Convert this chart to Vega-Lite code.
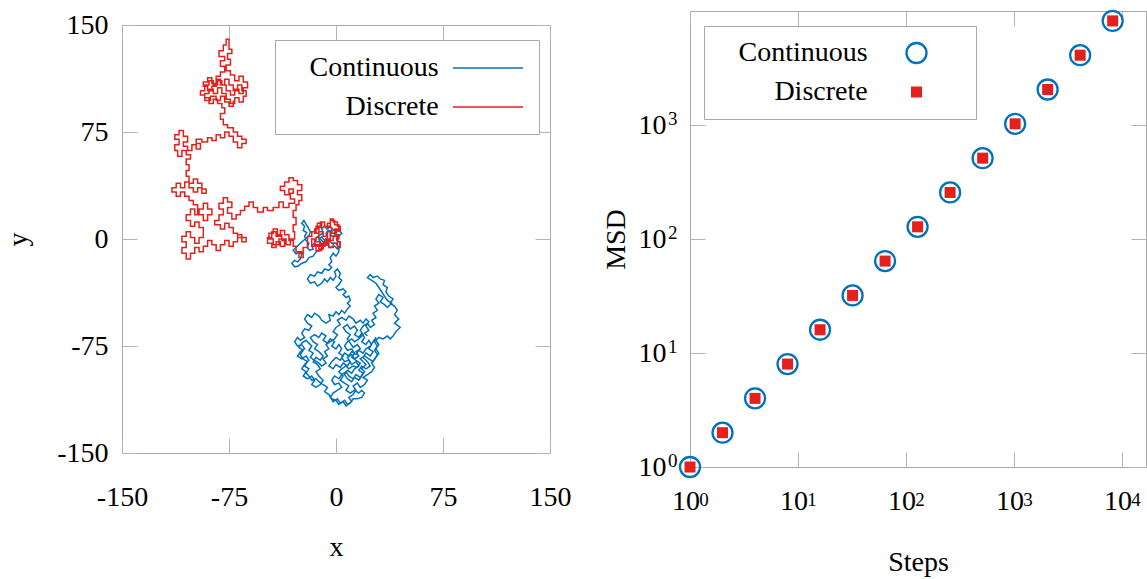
{
  "$schema": "https://vega.github.io/schema/vega-lite/v6.json",
  "background": "white",
  "padding": {"left": 4, "top": 5, "right": 0, "bottom": 0},
  "config": {
    "font": "Liberation Serif",
    "view": {"stroke": "#a9a9a9", "strokeWidth": 1},
    "axis": {
      "domain": false, "grid": false,
      "tickColor": "#b4b4b4", "tickSize": -15, "tickWidth": 1,
      "labelFont": "Liberation Serif", "labelFontSize": 28, "labelColor": "#000000",
      "labelFlush": false, "labelOverlap": false, "labelBound": false,
      "titleFont": "Liberation Serif", "titleFontSize": 28, "titleFontWeight": "normal", "titleColor": "#000000"
    },
    "legend": {
      "labelFont": "Liberation Serif", "labelFontSize": 28, "labelColor": "#000000", "labelLimit": 0,
      "strokeColor": "#a9a9a9", "fillColor": "white"
    }
  },
  "datasets": {
    "cont": [
      {"x":0,"y":0},{"x":1.5,"y":2},{"x":-0.5,"y":3.5},{"x":-2,"y":1.5},{"x":-4,"y":3},{"x":-3,"y":5.5},{"x":-5.5,"y":6},{"x":-7,"y":4},{"x":-6,"y":1},{"x":-8,"y":-1},{"x":-10,"y":1.5},{"x":-12,"y":0},{"x":-11,"y":-3},{"x":-13,"y":-5},{"x":-15,"y":-3},{"x":-17,"y":-4.5},{"x":-16,"y":-7},{"x":-18.5,"y":-8},{"x":-20,"y":-6},{"x":-19,"y":-3},{"x":-21,"y":-1},{"x":-22,"y":2},{"x":-20.5,"y":4.5},{"x":-23,"y":6},{"x":-22,"y":9},{"x":-24,"y":11},{"x":-22.5,"y":13},{"x":-21,"y":10.5},{"x":-19.5,"y":8},{"x":-18,"y":5},{"x":-19,"y":2},{"x":-21.5,"y":0},{"x":-24,"y":-2},{"x":-26,"y":-4},{"x":-28,"y":-6},{"x":-30,"y":-8},{"x":-28,"y":-10.5},{"x":-26,"y":-9},{"x":-24,"y":-11},{"x":-25,"y":-14},{"x":-27,"y":-16},{"x":-29,"y":-15},{"x":-31,"y":-17},{"x":-29,"y":-19.5},{"x":-26.5,"y":-19},{"x":-24,"y":-17},{"x":-21,"y":-16},{"x":-19,"y":-13},{"x":-16,"y":-12},{"x":-14,"y":-9},{"x":-11,"y":-8},{"x":-9,"y":-5},{"x":-6,"y":-4},{"x":-4,"y":-6},{"x":-1,"y":-5},{"x":1,"y":-7},{"x":3,"y":-5},{"x":2.5,"y":-2},{"x":0.5,"y":-1},{"x":2,"y":2},{"x":4,"y":4},{"x":2.5,"y":6},{"x":0,"y":4.5},{"x":-2,"y":6.5},{"x":-4,"y":8.5},{"x":-6.5,"y":7},{"x":-8,"y":9},{"x":-10,"y":7},{"x":-9,"y":4},{"x":-11,"y":3},{"x":-13,"y":1.5},{"x":-10,"y":-1},{"x":-8,"y":-3},{"x":-5,"y":-1},{"x":-3,"y":-3},{"x":0,"y":-3},{"x":2,"y":-6},
      {"x":2,"y":-9},{"x":0,"y":-12},{"x":-2,"y":-10},{"x":-4,"y":-13},{"x":-3,"y":-16},{"x":-5,"y":-18},{"x":-3,"y":-20},{"x":-5,"y":-22},{"x":-8,"y":-21},{"x":-10,"y":-24},{"x":-13,"y":-23},{"x":-15,"y":-26},{"x":-18,"y":-25},{"x":-20,"y":-28},{"x":-18,"y":-31},{"x":-15,"y":-30},{"x":-13,"y":-33},{"x":-10,"y":-31},{"x":-8,"y":-28},{"x":-6,"y":-30},{"x":-4,"y":-27},{"x":-2,"y":-29},{"x":0,"y":-26},{"x":-1,"y":-23},{"x":1,"y":-21},{"x":3,"y":-24},{"x":2,"y":-27},{"x":4,"y":-29},{"x":2,"y":-32},{"x":0,"y":-34},{"x":2,"y":-36},{"x":5,"y":-35},{"x":7,"y":-37},{"x":5,"y":-39},{"x":7,"y":-41},{"x":9,"y":-40},{"x":10,"y":-43},{"x":8,"y":-45},{"x":10,"y":-47},{"x":8,"y":-49},
      {"x":6,"y":-52},{"x":4,"y":-50},{"x":2,"y":-53},{"x":0,"y":-51},{"x":-2,"y":-54},{"x":-5,"y":-53},{"x":-4,"y":-57},{"x":-7,"y":-59},{"x":-10,"y":-57},{"x":-12,"y":-54},{"x":-15,"y":-52},{"x":-17,"y":-55},{"x":-20,"y":-53},{"x":-22,"y":-56},{"x":-20,"y":-59},{"x":-17,"y":-61},{"x":-19,"y":-64},{"x":-22,"y":-63},{"x":-24,"y":-66},{"x":-22,"y":-69},{"x":-25,"y":-71},{"x":-27,"y":-69},{"x":-29,"y":-72},{"x":-27,"y":-75},{"x":-24,"y":-74},{"x":-22,"y":-77},{"x":-25,"y":-79},{"x":-27,"y":-82},{"x":-24,"y":-84},{"x":-21,"y":-82},{"x":-19,"y":-85},{"x":-22,"y":-88},{"x":-24,"y":-91},{"x":-21,"y":-93},{"x":-23,"y":-96},{"x":-20,"y":-98},{"x":-17,"y":-96},{"x":-15,"y":-99},{"x":-17,"y":-102},{"x":-14,"y":-104},{"x":-11,"y":-102},{"x":-9,"y":-99},{"x":-12,"y":-96},{"x":-14,"y":-93},{"x":-11,"y":-91},{"x":-13,"y":-88},{"x":-16,"y":-86},{"x":-14,"y":-83},{"x":-11,"y":-85},{"x":-9,"y":-82},{"x":-12,"y":-79},{"x":-15,"y":-77},{"x":-13,"y":-74},{"x":-16,"y":-72},{"x":-18,"y":-69},{"x":-15,"y":-67},{"x":-12,"y":-69},{"x":-10,"y":-66},{"x":-7,"y":-68},{"x":-9,"y":-71},{"x":-6,"y":-73},{"x":-4,"y":-70},{"x":-1,"y":-72},{"x":-3,"y":-75},{"x":0,"y":-77},{"x":2,"y":-74},{"x":4,"y":-77},{"x":2,"y":-80},{"x":5,"y":-82},{"x":3,"y":-85},{"x":0,"y":-83},{"x":-3,"y":-86},{"x":-5,"y":-89},{"x":-2,"y":-91},{"x":0,"y":-88},{"x":3,"y":-90},{"x":5,"y":-87},{"x":8,"y":-89},{"x":10,"y":-86},{"x":8,"y":-83},{"x":11,"y":-81},{"x":13,"y":-84},{"x":16,"y":-82},{"x":14,"y":-79},{"x":17,"y":-77},{"x":15,"y":-74},{"x":12,"y":-76},{"x":10,"y":-73},{"x":8,"y":-70},{"x":10,"y":-67},{"x":7,"y":-65},{"x":5,"y":-62},{"x":8,"y":-60},{"x":10,"y":-63},{"x":13,"y":-61},{"x":15,"y":-64},{"x":13,"y":-67},{"x":16,"y":-69},{"x":18,"y":-66},{"x":20,"y":-69},{"x":18,"y":-72},{"x":21,"y":-74},{"x":23,"y":-71},{"x":25,"y":-74},{"x":23,"y":-77},{"x":26,"y":-79},{"x":24,"y":-82},{"x":21,"y":-80},{"x":19,"y":-83},{"x":22,"y":-86},{"x":24,"y":-89},{"x":21,"y":-91},{"x":18,"y":-89},{"x":16,"y":-92},{"x":19,"y":-94},{"x":17,"y":-97},{"x":14,"y":-95},{"x":12,"y":-98},{"x":9,"y":-96},{"x":7,"y":-93},{"x":4,"y":-95},{"x":2,"y":-98},{"x":-1,"y":-96},{"x":-3,"y":-99},{"x":-1,"y":-102},{"x":2,"y":-101},{"x":4,"y":-104},{"x":1,"y":-106},{"x":-2,"y":-108},{"x":-4,"y":-111},{"x":-2,"y":-114},{"x":1,"y":-112},{"x":3,"y":-115},{"x":6,"y":-113},{"x":8,"y":-116},{"x":11,"y":-114},{"x":9,"y":-111},{"x":12,"y":-109},{"x":14,"y":-106},{"x":12,"y":-103},{"x":15,"y":-101},{"x":17,"y":-104},{"x":20,"y":-102},{"x":22,"y":-99},{"x":19,"y":-97},{"x":22,"y":-95},{"x":25,"y":-93},{"x":27,"y":-90},{"x":25,"y":-87},{"x":27,"y":-84},{"x":29,"y":-81},{"x":27,"y":-78},{"x":29,"y":-75},{"x":27,"y":-72},{"x":28,"y":-69},
      {"x":26,"y":-72},{"x":24,"y":-75},{"x":21,"y":-77},{"x":19,"y":-80},{"x":16,"y":-78},{"x":14,"y":-81},{"x":11,"y":-79},{"x":9,"y":-82},{"x":6,"y":-80},{"x":4,"y":-83},{"x":6,"y":-86},{"x":9,"y":-85},{"x":11,"y":-88},{"x":14,"y":-86},{"x":16,"y":-89},{"x":13,"y":-91},{"x":11,"y":-94},{"x":8,"y":-92},{"x":6,"y":-95},{"x":8,"y":-98},{"x":11,"y":-100},{"x":13,"y":-97},{"x":16,"y":-99},{"x":18,"y":-96},{"x":20,"y":-93},{"x":18,"y":-91},{"x":21,"y":-88},{"x":19,"y":-86},{"x":17,"y":-84},{"x":20,"y":-82},{"x":23,"y":-84},{"x":26,"y":-86},{"x":28,"y":-83},{"x":30,"y":-80},{"x":28,"y":-77},{"x":30,"y":-74},{"x":28,"y":-71},{"x":30,"y":-69},
      {"x":33,"y":-70},{"x":36,"y":-68},{"x":38,"y":-70},{"x":40,"y":-68},{"x":42,"y":-65},{"x":45,"y":-62},{"x":41,"y":-59},{"x":44,"y":-56},{"x":41,"y":-53},{"x":43,"y":-50},{"x":41,"y":-47},{"x":38,"y":-45},{"x":40,"y":-42},{"x":37,"y":-40},{"x":35,"y":-37},{"x":36,"y":-34},{"x":33,"y":-32},{"x":34,"y":-29},{"x":31,"y":-28},{"x":29,"y":-26},{"x":26,"y":-27},{"x":24,"y":-25},{"x":22,"y":-27},{"x":25,"y":-29},{"x":28,"y":-31},{"x":30,"y":-34},{"x":32,"y":-37},{"x":34,"y":-40},{"x":36,"y":-43},{"x":39,"y":-45},{"x":36,"y":-48},{"x":34,"y":-46},{"x":31,"y":-44},{"x":33,"y":-41},{"x":30,"y":-39},
      {"x":28,"y":-42},{"x":30,"y":-45},{"x":27,"y":-47},{"x":29,"y":-50},{"x":26,"y":-52},{"x":28,"y":-55},{"x":25,"y":-57},{"x":27,"y":-60},{"x":24,"y":-62},{"x":22,"y":-59},{"x":19,"y":-61},{"x":17,"y":-64},{"x":19,"y":-67},{"x":16,"y":-70},{"x":13,"y":-72},{"x":11,"y":-70},{"x":8,"y":-72},{"x":6,"y":-75},{"x":8,"y":-78},{"x":11,"y":-77},{"x":13,"y":-80},{"x":11,"y":-83},{"x":14,"y":-85},{"x":17,"y":-87},{"x":15,"y":-90},{"x":12,"y":-89},{"x":9,"y":-91},{"x":7,"y":-89},{"x":4,"y":-91},{"x":2,"y":-93},{"x":5,"y":-96},{"x":3,"y":-99},{"x":6,"y":-101},{"x":9,"y":-103},{"x":7,"y":-106},{"x":10,"y":-108},{"x":13,"y":-106},{"x":16,"y":-108},{"x":18,"y":-106},{"x":20,"y":-108},{"x":18,"y":-111},{"x":15,"y":-112},{"x":12,"y":-112},
      {"x":10,"y":-115},{"x":7,"y":-117},{"x":5,"y":-114},{"x":2,"y":-116},{"x":0,"y":-113},{"x":-3,"y":-112},{"x":-5,"y":-109},{"x":-8,"y":-107},{"x":-6,"y":-104},{"x":-9,"y":-102},{"x":-12,"y":-100},{"x":-14,"y":-98},{"x":-17,"y":-99},{"x":-19,"y":-96},{"x":-21,"y":-94},{"x":-19,"y":-91},{"x":-22,"y":-89},{"x":-20,"y":-86},{"x":-23,"y":-84},{"x":-25,"y":-81},{"x":-23,"y":-78},{"x":-26,"y":-76},{"x":-24,"y":-73},{"x":-21,"y":-71},{"x":-19,"y":-73},{"x":-17,"y":-75},{"x":-19,"y":-78},{"x":-16,"y":-80},{"x":-18,"y":-83},{"x":-15,"y":-85},{"x":-12,"y":-87},{"x":-10,"y":-89},{"x":-7,"y":-87},{"x":-9,"y":-84},{"x":-6,"y":-82},{"x":-8,"y":-79},{"x":-5,"y":-77},{"x":-7,"y":-74},{"x":-4,"y":-72},{"x":-1,"y":-70},{"x":1,"y":-67},{"x":-2,"y":-65},{"x":0,"y":-62},{"x":3,"y":-60},{"x":1,"y":-57},{"x":4,"y":-55},{"x":7,"y":-57},{"x":9,"y":-54},{"x":12,"y":-56},{"x":14,"y":-59},{"x":17,"y":-57},{"x":19,"y":-59},{"x":21,"y":-56},{"x":23,"y":-58},{"x":21,"y":-61},{"x":23,"y":-64},{"x":20,"y":-66},{"x":22,"y":-68}
    ],
    "disc": [
      {"x":0,"y":0},{"x":2,"y":0},{"x":2,"y":3},{"x":0,"y":3},{"x":0,"y":6},{"x":3,"y":6},{"x":3,"y":9},{"x":1,"y":9},{"x":1,"y":12},{"x":-2,"y":12},{"x":-2,"y":14},{"x":-4,"y":14},{"x":-4,"y":11},{"x":-6,"y":11},{"x":-6,"y":8},{"x":-3,"y":8},{"x":-3,"y":5},{"x":-6,"y":5},{"x":-6,"y":2},{"x":-9,"y":2},{"x":-9,"y":5},{"x":-12,"y":5},{"x":-12,"y":8},{"x":-10,"y":8},{"x":-10,"y":11},{"x":-13,"y":11},{"x":-13,"y":7},{"x":-15,"y":7},{"x":-15,"y":4},{"x":-12,"y":4},{"x":-12,"y":1},{"x":-14,"y":1},{"x":-14,"y":-2},{"x":-11,"y":-2},{"x":-11,"y":-5},{"x":-8,"y":-5},{"x":-8,"y":-2},{"x":-5,"y":-2},{"x":-5,"y":-6},{"x":-2,"y":-6},{"x":-2,"y":-3},{"x":1,"y":-3},{"x":1,"y":-6},{"x":3,"y":-6},{"x":3,"y":-2},{"x":1,"y":-2},{"x":1,"y":2},{"x":-2,"y":2},{"x":-2,"y":-1},{"x":-6,"y":-1},{"x":-6,"y":-4},{"x":-9,"y":-4},{"x":-9,"y":-7},{"x":-12,"y":-7},{"x":-12,"y":-4},{"x":-15,"y":-4},{"x":-15,"y":0},{"x":-17,"y":0},{"x":-17,"y":-2},
      {"x":-17,"y":-5},{"x":-14,"y":-5},{"x":-14,"y":-8},{"x":-10,"y":-8},{"x":-10,"y":-3},{"x":-7,"y":-3},{"x":-7,"y":0},{"x":-4,"y":0},{"x":-4,"y":4},{"x":-1,"y":4},{"x":-1,"y":7},{"x":2,"y":7},{"x":2,"y":10},{"x":-1,"y":10},{"x":-1,"y":13},{"x":-4,"y":13},{"x":-4,"y":9},{"x":-8,"y":9},{"x":-8,"y":12},{"x":-11,"y":12},{"x":-11,"y":9},{"x":-14,"y":9},{"x":-14,"y":5},{"x":-17,"y":5},{"x":-17,"y":2},{"x":-20,"y":2},
      {"x":-20,"y":-2},{"x":-20,"y":-6},{"x":-23,"y":-6},{"x":-23,"y":-10},{"x":-26,"y":-10},{"x":-26,"y":-13},{"x":-23,"y":-13},{"x":-23,"y":-9},{"x":-28,"y":-9},{"x":-28,"y":-5},{"x":-30,"y":-5},{"x":-30,"y":-1},{"x":-33,"y":-1},{"x":-33,"y":3},{"x":-36,"y":3},{"x":-36,"y":6},{"x":-39,"y":6},{"x":-39,"y":2},{"x":-42,"y":2},{"x":-42,"y":5},{"x":-45,"y":5},{"x":-45,"y":1},{"x":-48,"y":1},{"x":-48,"y":-3},{"x":-45,"y":-3},{"x":-45,"y":-6},{"x":-42,"y":-6},{"x":-42,"y":-2},{"x":-39,"y":-2},{"x":-39,"y":-5},{"x":-36,"y":-5},{"x":-36,"y":-1},{"x":-38,"y":-1},{"x":-38,"y":3},{"x":-41,"y":3},{"x":-41,"y":7},{"x":-44,"y":7},{"x":-44,"y":4},{"x":-47,"y":4},{"x":-47,"y":0},{"x":-44,"y":0},{"x":-44,"y":-4},{"x":-40,"y":-4},{"x":-40,"y":0},{"x":-35,"y":0},{"x":-35,"y":-4},{"x":-32,"y":-4},{"x":-32,"y":0},{"x":-29,"y":0},{"x":-29,"y":5},
      {"x":-30,"y":5},{"x":-30,"y":10},{"x":-28,"y":10},{"x":-28,"y":15},{"x":-30,"y":15},{"x":-30,"y":20},{"x":-28,"y":20},{"x":-28,"y":24},{"x":-26,"y":24},{"x":-26,"y":27},{"x":-24,"y":27},{"x":-24,"y":31},{"x":-27,"y":31},{"x":-27,"y":34},{"x":-24,"y":34},{"x":-24,"y":38},{"x":-27,"y":38},{"x":-27,"y":41},{"x":-30,"y":41},{"x":-30,"y":43},{"x":-33,"y":43},{"x":-33,"y":40},{"x":-36,"y":40},{"x":-36,"y":37},{"x":-39,"y":37},{"x":-39,"y":34},{"x":-36,"y":34},{"x":-36,"y":31},{"x":-33,"y":31},{"x":-33,"y":35},{"x":-30,"y":35},{"x":-30,"y":32},{"x":-32,"y":32},{"x":-32,"y":28},{"x":-29,"y":28},{"x":-29,"y":25},{"x":-33,"y":25},{"x":-33,"y":22},{"x":-37,"y":22},{"x":-37,"y":26},{"x":-40,"y":26},{"x":-40,"y":22},
      {"x":-44,"y":22},{"x":-44,"y":20},{"x":-48,"y":20},{"x":-48,"y":22},{"x":-51,"y":22},{"x":-51,"y":19},{"x":-55,"y":19},{"x":-55,"y":22},{"x":-58,"y":22},{"x":-58,"y":26},{"x":-61,"y":26},{"x":-61,"y":23},{"x":-64,"y":23},{"x":-64,"y":20},{"x":-67,"y":20},
      {"x":-67,"y":17},{"x":-70,"y":17},{"x":-70,"y":14},{"x":-73,"y":14},{"x":-73,"y":18},{"x":-76,"y":18},{"x":-76,"y":22},{"x":-73,"y":22},{"x":-73,"y":26},{"x":-76,"y":26},{"x":-76,"y":29},{"x":-79,"y":29},{"x":-79,"y":25},{"x":-82,"y":25},{"x":-82,"y":21},{"x":-79,"y":21},{"x":-79,"y":17},{"x":-82,"y":17},{"x":-82,"y":13},{"x":-85,"y":13},{"x":-85,"y":10},{"x":-81,"y":10},{"x":-81,"y":7},{"x":-78,"y":7},{"x":-78,"y":11},{"x":-75,"y":11},{"x":-75,"y":8},{"x":-72,"y":8},{"x":-72,"y":4},{"x":-69,"y":4},{"x":-69,"y":1},{"x":-66,"y":1},{"x":-66,"y":-2},{"x":-63,"y":-2},{"x":-63,"y":1},{"x":-66,"y":1},{"x":-66,"y":3},{"x":-69,"y":3},{"x":-69,"y":-2},
      {"x":-72,"y":-2},{"x":-72,"y":-5},{"x":-75,"y":-5},{"x":-75,"y":-1},{"x":-78,"y":-1},{"x":-78,"y":-4},{"x":-81,"y":-4},{"x":-81,"y":-8},{"x":-84,"y":-8},{"x":-84,"y":-4},{"x":-87,"y":-4},{"x":-87,"y":-1},{"x":-90,"y":-1},{"x":-90,"y":-5},{"x":-93,"y":-5},{"x":-93,"y":-9},{"x":-96,"y":-9},{"x":-96,"y":-6},{"x":-99,"y":-6},{"x":-99,"y":-10},{"x":-102,"y":-10},{"x":-102,"y":-14},{"x":-105,"y":-14},{"x":-105,"y":-10},{"x":-108,"y":-10},{"x":-108,"y":-6},{"x":-105,"y":-6},{"x":-105,"y":-2},{"x":-108,"y":-2},{"x":-108,"y":2},{"x":-105,"y":2},{"x":-105,"y":5},{"x":-102,"y":5},{"x":-102,"y":1},{"x":-99,"y":1},{"x":-99,"y":-3},{"x":-96,"y":-3},{"x":-96,"y":1},{"x":-93,"y":1},{"x":-93,"y":4},
      {"x":-93,"y":8},{"x":-96,"y":8},{"x":-96,"y":12},{"x":-99,"y":12},{"x":-99,"y":9},{"x":-102,"y":9},{"x":-102,"y":13},{"x":-105,"y":13},{"x":-105,"y":17},{"x":-102,"y":17},{"x":-102,"y":21},{"x":-99,"y":21},{"x":-99,"y":17},{"x":-96,"y":17},{"x":-96,"y":21},{"x":-93,"y":21},{"x":-93,"y":25},{"x":-90,"y":25},{"x":-90,"y":21},{"x":-87,"y":21},{"x":-87,"y":17},{"x":-90,"y":17},{"x":-90,"y":13},{"x":-93,"y":13},{"x":-93,"y":17},{"x":-97,"y":17},{"x":-97,"y":24},{"x":-100,"y":24},{"x":-100,"y":27},{"x":-103,"y":27},{"x":-103,"y":30},
      {"x":-106,"y":30},{"x":-106,"y":33},{"x":-109,"y":33},{"x":-109,"y":30},{"x":-112,"y":30},{"x":-112,"y":33},{"x":-115,"y":33},{"x":-115,"y":36},{"x":-112,"y":36},{"x":-112,"y":39},{"x":-109,"y":39},{"x":-109,"y":36},{"x":-106,"y":36},{"x":-106,"y":40},{"x":-103,"y":40},{"x":-103,"y":36},{"x":-100,"y":36},{"x":-100,"y":33},{"x":-97,"y":33},{"x":-97,"y":36},{"x":-94,"y":36},{"x":-94,"y":32},{"x":-91,"y":32},{"x":-91,"y":35},{"x":-94,"y":35},{"x":-94,"y":39},{"x":-97,"y":39},{"x":-97,"y":42},{"x":-100,"y":42},{"x":-100,"y":39},{"x":-103,"y":39},{"x":-103,"y":44},{"x":-105,"y":44},
      {"x":-105,"y":48},{"x":-103,"y":48},{"x":-103,"y":52},{"x":-105,"y":52},{"x":-105,"y":56},{"x":-102,"y":56},
      {"x":-102,"y":59},{"x":-105,"y":59},{"x":-105,"y":62},{"x":-108,"y":62},{"x":-108,"y":58},{"x":-111,"y":58},{"x":-111,"y":62},{"x":-113,"y":62},{"x":-113,"y":66},{"x":-110,"y":66},{"x":-110,"y":70},{"x":-113,"y":70},{"x":-113,"y":73},{"x":-110,"y":73},{"x":-110,"y":76},{"x":-107,"y":76},{"x":-107,"y":72},{"x":-104,"y":72},{"x":-104,"y":68},{"x":-107,"y":68},{"x":-107,"y":65},{"x":-104,"y":65},{"x":-104,"y":62},{"x":-101,"y":62},{"x":-101,"y":66},{"x":-98,"y":66},{"x":-98,"y":63},{"x":-95,"y":63},{"x":-95,"y":67},{"x":-98,"y":67},{"x":-98,"y":70},
      {"x":-94,"y":70},{"x":-94,"y":68},{"x":-90,"y":68},{"x":-90,"y":71},{"x":-87,"y":71},{"x":-87,"y":69},{"x":-84,"y":69},{"x":-84,"y":73},{"x":-81,"y":73},{"x":-81,"y":71},{"x":-78,"y":71},{"x":-78,"y":75},{"x":-75,"y":75},{"x":-75,"y":72},{"x":-72,"y":72},
      {"x":-72,"y":68},{"x":-69,"y":68},{"x":-69,"y":64},{"x":-66,"y":64},{"x":-66,"y":67},{"x":-63,"y":67},{"x":-63,"y":70},{"x":-66,"y":70},{"x":-66,"y":72},{"x":-69,"y":72},{"x":-69,"y":75},{"x":-72,"y":75},{"x":-72,"y":78},{"x":-76,"y":78},{"x":-76,"y":80},{"x":-79,"y":80},
      {"x":-79,"y":84},{"x":-81,"y":84},{"x":-81,"y":88},{"x":-78,"y":88},{"x":-78,"y":92},{"x":-80,"y":92},{"x":-80,"y":95},
      {"x":-83,"y":95},{"x":-83,"y":98},{"x":-86,"y":98},{"x":-86,"y":95},{"x":-89,"y":95},{"x":-89,"y":99},{"x":-92,"y":99},{"x":-92,"y":102},{"x":-89,"y":102},{"x":-89,"y":105},{"x":-86,"y":105},{"x":-86,"y":102},{"x":-83,"y":102},{"x":-83,"y":106},{"x":-80,"y":106},{"x":-80,"y":102},{"x":-77,"y":102},{"x":-77,"y":98},{"x":-74,"y":98},{"x":-74,"y":95},{"x":-71,"y":95},{"x":-71,"y":99},{"x":-68,"y":99},{"x":-68,"y":96},{"x":-65,"y":96},{"x":-65,"y":100},{"x":-63,"y":100},{"x":-63,"y":104},{"x":-66,"y":104},{"x":-66,"y":108},{"x":-69,"y":108},{"x":-69,"y":104},{"x":-72,"y":104},{"x":-72,"y":108},{"x":-75,"y":108},{"x":-75,"y":112},{"x":-78,"y":112},{"x":-78,"y":108},{"x":-81,"y":108},{"x":-81,"y":112},{"x":-84,"y":112},{"x":-84,"y":109},{"x":-87,"y":109},{"x":-87,"y":113},{"x":-90,"y":113},{"x":-90,"y":110},{"x":-93,"y":110},{"x":-93,"y":107},{"x":-90,"y":107},{"x":-90,"y":104},{"x":-87,"y":104},{"x":-87,"y":107},{"x":-84,"y":107},{"x":-84,"y":114},{"x":-81,"y":114},{"x":-81,"y":117},
      {"x":-78,"y":117},{"x":-78,"y":121},{"x":-81,"y":121},{"x":-81,"y":125},{"x":-78,"y":125},{"x":-78,"y":128},{"x":-82,"y":128},{"x":-82,"y":132},{"x":-79,"y":132},{"x":-79,"y":136},{"x":-77,"y":136},{"x":-77,"y":140},{"x":-75,"y":140},{"x":-75,"y":133},{"x":-73,"y":133},{"x":-73,"y":130},{"x":-76,"y":130},
      {"x":-76,"y":126},{"x":-74,"y":126},{"x":-74,"y":122},{"x":-77,"y":122},{"x":-77,"y":118},{"x":-74,"y":118},{"x":-74,"y":115},{"x":-71,"y":115},{"x":-71,"y":111},{"x":-68,"y":111},{"x":-68,"y":114},{"x":-65,"y":114},{"x":-65,"y":110},{"x":-62,"y":110},{"x":-62,"y":106},{"x":-65,"y":106},{"x":-65,"y":102},{"x":-68,"y":102},{"x":-68,"y":105},{"x":-71,"y":105},{"x":-71,"y":101},{"x":-74,"y":101},{"x":-74,"y":104},{"x":-77,"y":104},{"x":-77,"y":108},{"x":-80,"y":108},{"x":-80,"y":111},{"x":-83,"y":111},{"x":-83,"y":108},{"x":-86,"y":108},{"x":-86,"y":111},{"x":-89,"y":111},{"x":-89,"y":108},{"x":-92,"y":108},{"x":-92,"y":104},{"x":-95,"y":104},{"x":-95,"y":101},{"x":-92,"y":101},{"x":-92,"y":97},{"x":-88,"y":97},{"x":-88,"y":100},{"x":-84,"y":100},{"x":-84,"y":97},{"x":-81,"y":97},{"x":-81,"y":100},{"x":-78,"y":100},{"x":-78,"y":96},{"x":-75,"y":96},{"x":-75,"y":93},{"x":-72,"y":93},{"x":-72,"y":97}
    ],
    "msd": [
      {"s":"Continuous","steps":1,"msd":1},{"s":"Continuous","steps":2,"msd":2},{"s":"Continuous","steps":4,"msd":4},{"s":"Continuous","steps":8,"msd":8},{"s":"Continuous","steps":16,"msd":16},{"s":"Continuous","steps":32,"msd":32},{"s":"Continuous","steps":64,"msd":64},{"s":"Continuous","steps":128,"msd":128},{"s":"Continuous","steps":256,"msd":256},{"s":"Continuous","steps":512,"msd":512},{"s":"Continuous","steps":1024,"msd":1024},{"s":"Continuous","steps":2048,"msd":2048},{"s":"Continuous","steps":4096,"msd":4096},{"s":"Continuous","steps":8192,"msd":8192},
      {"s":"Discrete","steps":1,"msd":1},{"s":"Discrete","steps":2,"msd":2},{"s":"Discrete","steps":4,"msd":4},{"s":"Discrete","steps":8,"msd":8},{"s":"Discrete","steps":16,"msd":16},{"s":"Discrete","steps":32,"msd":32},{"s":"Discrete","steps":64,"msd":64},{"s":"Discrete","steps":128,"msd":128},{"s":"Discrete","steps":256,"msd":256},{"s":"Discrete","steps":512,"msd":512},{"s":"Discrete","steps":1024,"msd":1024},{"s":"Discrete","steps":2048,"msd":2048},{"s":"Discrete","steps":4096,"msd":4096},{"s":"Discrete","steps":8192,"msd":8192}
    ]
  },
  "hconcat": [
    {
      "width": 428,
      "height": 428,
      "layer": [
        {
          "data": {"name": "cont"},
          "mark": {"type": "line", "strokeWidth": 1.5},
          "encoding": {
            "x": {"field": "x", "type": "quantitative",
              "scale": {"domain": [-150, 150], "nice": false, "zero": false},
              "axis": {"orient": "bottom", "values": [-150, -75, 0, 75, 150], "labelExpr": "'' + datum.value",
                "labelBaseline": "alphabetic", "labelPadding": 67, "title": "x", "titlePadding": 22}},
            "y": {"field": "y", "type": "quantitative",
              "scale": {"domain": [-150, 150], "nice": false, "zero": false},
              "axis": {"orient": "left", "values": [-150, -75, 0, 75, 150], "labelExpr": "'' + datum.value", "labelPadding": 29, "title": "y", "titlePadding": 24}},
            "color": {"datum": "Continuous", "type": "nominal",
              "scale": {"domain": ["Continuous", "Discrete"], "range": ["#0072bd", "#e3211c"]},
              "legend": {"title": null, "orient": "none", "legendX": 153, "legendY": 15, "padding": 13, "rowPadding": 10,
                "symbolType": "M -2.5 0 H 2.5", "symbolSize": 784, "symbolStrokeWidth": 1.5,
                "labelAlign": "right", "labelOffset": -64.3, "symbolOffset": 185}},
            "order": {"value": null}
          }
        },
        {
          "data": {"name": "disc"},
          "mark": {"type": "line", "strokeWidth": 1.5},
          "encoding": {
            "x": {"field": "x", "type": "quantitative",
              "axis": {"orient": "top", "values": [-150, -75, 0, 75, 150], "labels": false, "title": null}},
            "y": {"field": "y", "type": "quantitative",
              "axis": {"orient": "right", "values": [-150, -75, 0, 75, 150], "labels": false, "title": null}},
            "color": {"datum": "Discrete", "type": "nominal"},
            "order": {"value": null}
          }
        }
      ],
      "resolve": {"axis": {"x": "independent", "y": "independent"}}
    },
    {
      "width": 456,
      "height": 456,
      "data": {"name": "msd"},
      "layer": [
        {
          "mark": {"type": "point", "size": 400, "strokeWidth": 2.3, "opacity": 1},
          "encoding": {
            "x": {"field": "steps", "type": "quantitative",
              "scale": {"type": "log", "domain": [1, 16672], "nice": false},
              "axis": {"orient": "bottom", "values": [1, 10, 100, 1000, 10000], "labelExpr": "'10'",
                "labelAlign": "center", "labelOffset": -4.5, "labelBaseline": "alphabetic", "labelPadding": 57,
                "title": "Steps", "titlePadding": 33}},
            "y": {"field": "msd", "type": "quantitative",
              "scale": {"type": "log", "domain": [1, 10000], "nice": false},
              "axis": {"orient": "left", "values": [1, 10, 100, 1000], "labelExpr": "'10'",
                "labelAlign": "right", "labelBaseline": "middle", "labelPadding": 39,
                "title": "MSD", "titlePadding": 8}},
            "shape": {"field": "s", "type": "nominal",
              "scale": {"domain": ["Continuous", "Discrete"], "range": ["circle", "M -0.55 -0.55 H 0.55 V 0.55 H -0.55 Z"]},
              "legend": {"title": "\u00a0", "titleOrient": "right", "titlePadding": 32, "titleFontSize": 10,
                "orient": "none", "legendX": 14, "legendY": 15, "padding": 13, "rowPadding": 10,
                "symbolSize": 400, "symbolStrokeWidth": 2.3,
                "labelAlign": "right", "labelOffset": -62.8, "symbolOffset": 185.5}},
            "fill": {"field": "s", "type": "nominal",
              "scale": {"domain": ["Continuous", "Discrete"], "range": ["transparent", "#e3211c"]},
              "legend": {"title": "\u00a0", "titleOrient": "right", "titlePadding": 32, "titleFontSize": 10,
                "orient": "none", "legendX": 14, "legendY": 15, "padding": 13, "rowPadding": 10,
                "symbolSize": 400, "symbolStrokeWidth": 2.3,
                "labelAlign": "right", "labelOffset": -62.8, "symbolOffset": 185.5}},
            "stroke": {"field": "s", "type": "nominal",
              "scale": {"domain": ["Continuous", "Discrete"], "range": ["#0072bd", "transparent"]},
              "legend": {"title": "\u00a0", "titleOrient": "right", "titlePadding": 32, "titleFontSize": 10,
                "orient": "none", "legendX": 14, "legendY": 15, "padding": 13, "rowPadding": 10,
                "symbolSize": 400, "symbolStrokeWidth": 2.3,
                "labelAlign": "right", "labelOffset": -62.8, "symbolOffset": 185.5}}
          }
        },
        {
          "mark": {"type": "point", "opacity": 0},
          "encoding": {
            "x": {"field": "steps", "type": "quantitative",
              "axis": {"orient": "top", "values": [1, 10, 100, 1000, 10000], "labels": false, "title": null}},
            "y": {"field": "msd", "type": "quantitative",
              "axis": {"orient": "right", "values": [1, 10, 100, 1000], "labels": false, "title": null}}
          }
        },
        {
          "mark": {"type": "point", "opacity": 0},
          "encoding": {
            "x": {"field": "steps", "type": "quantitative",
              "axis": {"orient": "bottom", "values": [1, 10, 100, 1000, 10000],
                "labelExpr": "'' + round(log(datum.value) / LN10)", "labelFontSize": 19,
                "labelAlign": "center", "labelOffset": 13.5, "labelBaseline": "alphabetic", "labelPadding": 53,
                "tickOpacity": 0, "title": null}},
            "y": {"field": "msd", "type": "quantitative",
              "axis": {"orient": "left", "values": [1, 10, 100, 1000],
                "labelExpr": "'' + round(log(datum.value) / LN10)", "labelFontSize": 19,
                "labelAlign": "right", "labelBaseline": "middle", "labelOffset": -6.5, "labelPadding": 28,
                "tickOpacity": 0, "title": null}}
          }
        }
      ],
      "resolve": {"axis": {"x": "independent", "y": "independent"}}
    }
  ],
  "resolve": {"legend": {"color": "independent", "shape": "independent", "fill": "independent", "stroke": "independent"}},
  "spacing": 140,
  "bounds": "flush",
  "center": true
}
